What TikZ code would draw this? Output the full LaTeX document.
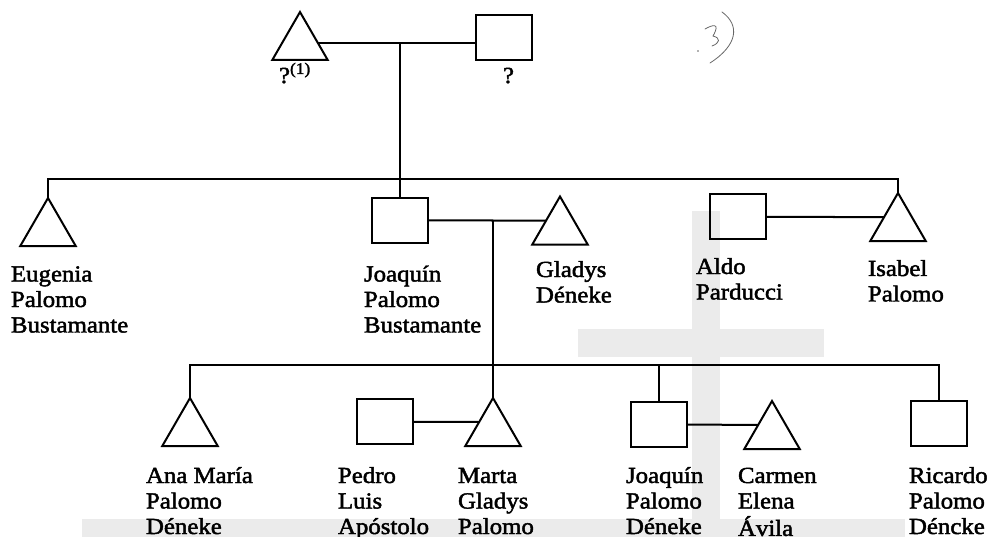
\documentclass[tikz,border=0pt]{standalone}
\usepackage{fontspec}
\setmainfont{Liberation Serif}[FakeStretch=1.08,FakeBold=2]
\usetikzlibrary{shapes.geometric,calc}
\newcommand{\lbl}[1]{\begin{tabular}[t]{@{}l@{}}#1\end{tabular}}
\begin{document}
\begin{tikzpicture}[x=1pt,y=-1pt, line width=2pt,
  fem/.style={regular polygon, regular polygon sides=3, minimum size=64pt, inner sep=0pt, outer sep=0pt, draw},
  masc/.style={rectangle, minimum width=56pt, minimum height=45pt, inner sep=0pt, outer sep=0pt, draw},
  lbltext/.style={anchor=base west, inner sep=0pt, font=\fontsize{23}{25.5}\selectfont},
  wm/.style={fill=black!8, draw=none},
  pencil/.style={draw=black!60, line width=0.8pt, line cap=round}]
\path[use as bounding box] (0,0) rectangle (990,537);
% background watermark
\fill[wm] (692,211) rectangle (720,537);
\fill[wm] (578,329) rectangle (824,357);
\fill[wm] (82,519) rectangle (905,537);
% handwritten pencil mark
\coordinate (hw1) at (722,12);
\coordinate (hw2) at (710,63);
\draw[pencil] (hw1) .. controls (740,25) and (738,45) .. (hw2);
\coordinate (hw3) at (705,29);
\coordinate (hw4) at (713,36);
\coordinate (hw5) at (712,46);
\draw[pencil] (hw3) .. controls (712,25) and (721,22) .. (hw4) .. controls (721,38) and (720,43) .. (hw5);
\coordinate (hw6) at (698,51);
\fill[black!60] (hw6) circle (0.8pt);
% generation 1
\node[fem, anchor=north] (f0) at (300,12) {};
\node[masc] (m0) at (504,37.5) {};
% generation 2
\node[fem, anchor=north] (eug) at (48,198) {};
\node[masc] (jpb) at (400,220.5) {};
\node[fem, anchor=north] (gla) at (560,196.5) {};
\node[masc] (ald) at (737.5,217) {};
\node[fem, anchor=north] (isa) at (898,193) {};
% generation 3
\node[fem, anchor=north] (ana) at (190,398) {};
\node[masc] (ped) at (385,421.8) {};
\node[fem, anchor=north] (mar) at (493,398) {};
\node[masc] (jpd) at (658.5,424.5) {};
\node[fem, anchor=north] (car) at (772,401) {};
\node[masc] (ric) at (938.5,423) {};
% connectors
\path (f0.corner 1) -- (f0.corner 3) coordinate[pos=0.65] (f0r);
\draw (f0r) -- (f0r -| m0.west);
\coordinate (p0) at (f0r -| jpb.north);
\coordinate (sib) at (jpb.north |- 0,179);
\draw (p0) -- (jpb.north);
\draw (eug.north) |- (sib) -| (isa.north);
\draw (jpb.east) -- (gla.side 1);
\coordinate (p1) at (jpb.east -| mar.north);
\draw (p1) -- (mar.north);
\draw (ald.east) -- (isa.side 1);
\coordinate (ch) at (mar.north |- 0,365);
\draw (ana.north) |- (ch) -| (ric.north);
\draw (jpd.north) -- (jpd.north |- ch);
\draw (ped.east) -- (mar.side 1);
\draw (jpd.east) -- (car.side 1);
% labels
\node[lbltext] (l0) at (278,83) {?\textsuperscript{(1)}};
\node[lbltext] (l1) at (502,83) {?};
\node[lbltext] (leug) at (10,281.5) {\lbl{Eugenia\\Palomo\\Bustamante}};
\node[lbltext] (ljpb) at (363,281.5) {\lbl{Joaquín\\Palomo\\Bustamante}};
\node[lbltext] (lgla) at (535,277) {\lbl{Gladys\\Déneke}};
\node[lbltext] (lald) at (695,274) {\lbl{Aldo\\Parducci}};
\node[lbltext] (lisa) at (867,276) {\lbl{Isabel\\Palomo}};
\node[lbltext] (lana) at (145,483) {\lbl{Ana María\\Palomo\\Déneke}};
\node[lbltext] (lped) at (337,483) {\lbl{Pedro\\Luis\\Apóstolo}};
\node[lbltext] (lmar) at (457,483) {\lbl{Marta\\Gladys\\Palomo}};
\node[lbltext] (ljpd) at (625,483) {\lbl{Joaquín\\Palomo\\Déneke}};
\node[lbltext] (lcar) at (737,483) {\lbl{Carmen\\Elena\\Ávila}};
\node[lbltext] (lric) at (908,483) {\lbl{Ricardo\\Palomo\\Déncke}};
\end{tikzpicture}
\end{document}
